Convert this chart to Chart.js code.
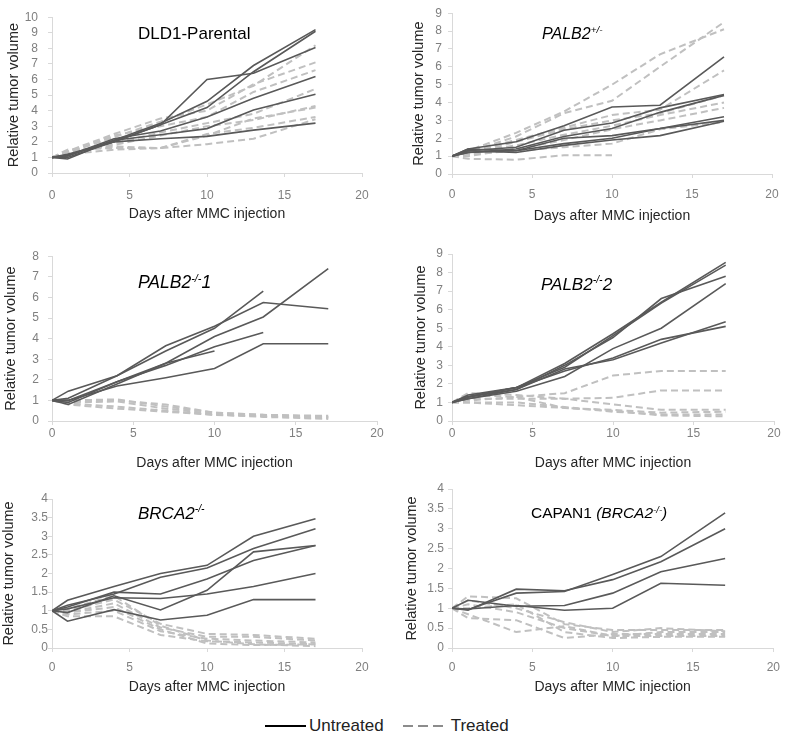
<!DOCTYPE html>
<html>
<head>
<meta charset="utf-8">
<script src="https://cdn.jsdelivr.net/npm/chart.js@4.4.0/dist/chart.umd.min.js"></script>
<style>
  body { margin: 0; background: #fff; width: 788px; height: 735px; position: relative; overflow: hidden;
         font-family: "Liberation Sans", Arial, sans-serif; }
  canvas { position: absolute; }
  .ptitle { position: absolute; color: #000; white-space: nowrap; line-height: 1; }
  .ptitle sup { font-size: 0.62em; vertical-align: 0; position: relative; top: -0.6em; }
  .legend { position: absolute; top: 714px; left: 265px; height: 22px; font-size: 17px; color: #222; line-height: 22px; white-space: nowrap; }
  .legend span { display: inline-block; vertical-align: middle; }
  .solid { width: 41px; height: 2px; background: #000; margin-right: 3px; }
  .dash { width: 42px; height: 2px; margin: 0 6px 0 19px;
          background: repeating-linear-gradient(to right, #8c8c8c 0 10px, transparent 10px 15px); }
</style>
</head>
<body>
<div class="legend"><span class="solid"></span><span>Untreated</span><span class="dash"></span><span>Treated</span></div>
<script>
// measurement days
const days = [0, 1, 4, 7, 10, 13, 17];
const xTicks = [0, 5, 10, 15, 20];

// DLD1-Parental
const dldUntreated = [
  [1, 1.2, 2.0, 3.1, 6.0, 6.4, 8.05],
  [1, 1.1, 2.1, 3.2, 4.6, 6.9, 9.2],
  [1, 1.0, 2.0, 3.1, 4.2, 6.5, 9.1],
  [1, 1.1, 2.2, 2.7, 3.6, 4.8, 6.2],
  [1, 0.9, 2.1, 2.45, 2.85, 4.05, 5.05],
  [1, 1.15, 2.0, 2.2, 2.35, 2.75, 3.2]
];
const dldTreated = [
  [1, 1.3, 2.3, 3.3, 4.4, 5.6, 8.2],
  [1, 1.4, 2.5, 3.5, 4.0, 5.7, 7.1],
  [1, 1.3, 2.4, 3.0, 3.6, 5.2, 6.6],
  [1, 1.2, 1.9, 2.6, 3.2, 3.8, 5.4],
  [1, 1.3, 1.8, 2.4, 3.0, 3.4, 4.3],
  [1, 1.4, 1.7, 1.6, 2.4, 3.5, 4.2],
  [1, 1.5, 1.6, 1.6, 2.5, 2.9, 3.6],
  [1, 1.2, 1.5, 1.6, 1.85, 2.2, 3.45]
];

// PALB2 +/-
const palbHetUntreated = [
  [1, 1.4, 1.8, 2.7, 3.75, 3.85, 6.55],
  [1, 1.3, 1.5, 2.45, 2.85, 3.7, 4.45],
  [1, 1.2, 1.4, 2.1, 2.55, 3.45, 4.4],
  [1, 1.4, 1.3, 2.0, 2.15, 2.55, 3.2],
  [1, 1.2, 1.3, 1.7, 2.0, 2.55, 3.0],
  [1, 1.3, 1.2, 1.6, 1.9, 2.15, 2.95]
];
const palbHetTreated = [
  [1, 1.3, 2.3, 3.5, 5.0, 6.7, 8.1],
  [1, 1.2, 2.1, 3.4, 4.1, 6.0, 8.5],
  [1, 1.2, 1.9, 2.6, 3.3, 3.6, 5.8],
  [1, 1.1, 1.8, 2.5, 3.0, 3.4, 4.4],
  [1, 1.2, 1.6, 2.2, 2.7, 3.3, 4.0],
  [1, 1.0, 1.4, 1.9, 2.5, 3.0, 3.7],
  [1, 1.1, 1.3, 1.5, 1.7, 2.5, 2.9],
  [1, 0.85, 0.8, 1.05, 1.05, null, null]
];

// PALB2 -/- clone 1
const palbKo1Untreated = [
  [1, 1.1, 2.2, 3.4, 4.5, 6.3, null],
  [1, 1.45, 2.2, 3.65, 4.6, 5.75, 5.45],
  [1, 0.8, 1.8, 2.8, 4.1, 5.05, 7.4],
  [1, 0.9, 1.9, 2.7, 3.6, 4.3, null],
  [1, 1.0, 1.9, 2.8, 3.4, null, null],
  [1, 1.0, 1.7, 2.1, 2.55, 3.75, 3.75]
];
const palbKo1Treated = [
  [1, 1.0, 1.05, 0.7, 0.4, 0.3, 0.2],
  [1, 0.9, 0.95, 0.6, 0.35, 0.25, 0.15],
  [1, 0.85, 0.7, 0.5, 0.3, 0.2, 0.1],
  [1, 0.95, 1.0, 0.8, 0.4, 0.3, 0.25],
  [1, 0.8, 0.6, 0.45, 0.3, 0.25, 0.2]
];

// PALB2 -/- clone 2
const palbKo2Untreated = [
  [1, 1.3, 1.8, 3.1, 4.7, 6.4, 8.55],
  [1, 1.2, 1.7, 3.0, 4.5, 6.6, 7.8],
  [1, 1.3, 1.8, 2.9, 4.6, 6.35, 8.4],
  [1, 1.2, 1.6, 2.4, 3.9, 5.0, 7.4],
  [1, 1.4, 1.8, 2.7, 3.4, 4.4, 5.1],
  [1, 1.3, 1.7, 2.8, 3.3, 4.2, 5.35]
];
const palbKo2Treated = [
  [1, 1.4, 1.3, 1.5, 2.45, 2.7, 2.7],
  [1, 1.2, 1.2, 1.2, 1.25, 1.65, 1.65],
  [1, 1.5, 1.4, 1.2, 0.9, 0.6, 0.6],
  [1, 1.1, 1.3, 0.7, 0.6, 0.45, 0.5],
  [1, 1.0, 1.0, 0.75, 0.5, 0.35, 0.35],
  [1, 1.0, 0.85, 0.7, 0.55, 0.3, 0.25]
];

// BRCA2 -/-
const brcaUntreated = [
  [1, 1.28, 1.65, 2.0, 2.22, 3.0, 3.47],
  [1, 1.15, 1.45, 1.9, 2.15, 2.67, 3.2],
  [1, 1.1, 1.5, 1.45, 1.85, 2.35, 2.75],
  [1, 0.95, 1.4, 1.02, 1.55, 2.58, 2.75],
  [1, 1.05, 1.35, 1.33, 1.45, 1.65, 2.0],
  [1, 0.72, 1.03, 0.75, 0.88, 1.3, 1.3]
];
const brcaTreated = [
  [1, 1.0, 1.3, 0.65, 0.38, 0.35, 0.25],
  [1, 0.95, 1.2, 0.55, 0.3, 0.3, 0.2],
  [1, 0.9, 1.0, 0.45, 0.25, 0.2, 0.15],
  [1, 0.85, 0.85, 0.35, 0.18, 0.15, 0.1],
  [1, 1.05, 1.4, 0.6, 0.2, 0.1, 0.05],
  [1, 0.95, 1.1, 0.5, 0.12, 0.08, 0.1]
];

// CAPAN1 (BRCA2 -/-)
const capanUntreated = [
  [1, 0.97, 1.38, 1.42, 1.85, 2.3, 3.4],
  [1, 0.95, 1.48, 1.44, 1.72, 2.17, 3.0],
  [1, 1.2, 1.05, 1.07, 1.38, 1.92, 2.25],
  [1, 0.98, 1.07, 0.95, 1.0, 1.63, 1.58]
];
const capanTreated = [
  [1, 1.3, 1.25, 0.6, 0.45, 0.45, 0.45],
  [1, 1.2, 1.0, 0.65, 0.4, 0.5, 0.42],
  [1, 1.1, 0.9, 0.5, 0.3, 0.4, 0.4],
  [1, 0.75, 0.7, 0.25, 0.35, 0.35, 0.35],
  [1, 1.0, 1.1, 0.4, 0.25, 0.28, 0.28],
  [1, 0.85, 0.4, 0.55, 0.3, 0.3, 0.3]
];

const panels = [
  { untreated: dldUntreated, treated: dldTreated, yMax: 10, yStep: 1, title: 'DLD1-Parental' },
  { untreated: palbHetUntreated, treated: palbHetTreated, yMax: 9, yStep: 1, title: '<i>PALB2<sup>+/-</sup></i>' },
  { untreated: palbKo1Untreated, treated: palbKo1Treated, yMax: 8, yStep: 1, title: '<i>PALB2<sup>-/-</sup>1</i>' },
  { untreated: palbKo2Untreated, treated: palbKo2Treated, yMax: 9, yStep: 1, title: '<i>PALB2<sup>-/-</sup>2</i>' },
  { untreated: brcaUntreated, treated: brcaTreated, yMax: 4, yStep: 0.5, title: '<i>BRCA2<sup>-/-</sup></i>' },
  { untreated: capanUntreated, treated: capanTreated, yMax: 4, yStep: 0.5, title: 'CAPAN1 <i>(BRCA2<sup>-/-</sup>)</i>' }
];

// canvas box, plot area [left, right, top, bottom], label paddings, title placement
const layout = [
  { left: 0,   top: 0,   w: 394, h: 240, plot: [52, 362, 7, 173],   yPad: 10, xPad: 11, yTitlePad: 5,  xTitlePad: 17, tx: 138, ty: 33, fs: 17 },
  { left: 394, top: 0,   w: 394, h: 240, plot: [452, 772, 7, 174],  yPad: 6,  xPad: 9,  yTitlePad: 16, xTitlePad: 15, tx: 542, ty: 34, fs: 16 },
  { left: 0,   top: 240, w: 394, h: 235, plot: [52, 377, 254, 421], yPad: 9,  xPad: 1,  yTitlePad: 2,  xTitlePad: 3,  tx: 138, ty: 283, fs: 17.5 },
  { left: 394, top: 240, w: 394, h: 235, plot: [452, 774, 254, 421], yPad: 5, xPad: 1,  yTitlePad: 18, xTitlePad: 3,  tx: 541, ty: 284, fs: 17 },
  { left: 0,   top: 475, w: 394, h: 225, plot: [52, 362, 499, 648], yPad: 0,  xPad: 8,  yTitlePad: 0,  xTitlePad: 4,  tx: 138, ty: 513, fs: 17 },
  { left: 394, top: 475, w: 394, h: 225, plot: [452, 780, 489, 648], yPad: 4, xPad: 8,  yTitlePad: 9,  xTitlePad: 4,  tx: 531, ty: 513, fs: 15.5 }
];

const toPoints = vals => days.map((d, i) => ({ x: d, y: vals[i] }));

panels.forEach((p, i) => {
  const g = layout[i];
  const canvas = document.createElement('canvas');
  canvas.width = g.w;
  canvas.height = g.h;
  canvas.style.left = g.left + 'px';
  canvas.style.top = g.top + 'px';
  document.body.appendChild(canvas);

  const t = document.createElement('div');
  t.className = 'ptitle';
  t.innerHTML = p.title;
  t.style.fontSize = g.fs + 'px';
  t.style.left = g.tx + 'px';
  t.style.top = (g.ty - 0.49 * g.fs) + 'px';
  document.body.appendChild(t);

  const datasets = [];
  p.untreated.forEach(v => datasets.push({ data: toPoints(v), borderColor: '#595959', borderWidth: 1.6 }));
  p.treated.forEach(v => datasets.push({ data: toPoints(v), borderColor: '#c0c0c0', borderWidth: 2, borderDash: [7, 4] }));

  new Chart(canvas, {
    type: 'line',
    data: { datasets },
    options: {
      responsive: false,
      animation: false,
      layout: { padding: { left: 0, top: g.plot[2] - g.top, right: g.left + g.w - g.plot[1], bottom: 0 } },
      elements: { point: { radius: 0 }, line: { tension: 0, fill: false } },
      plugins: { legend: { display: false }, tooltip: { enabled: false } },
      scales: {
        x: {
          type: 'linear', min: 0, max: 20,
          afterBuildTicks: s => { s.ticks = xTicks.map(v => ({ value: v })); },
          afterFit: s => { s.height = g.top + g.h - g.plot[3]; },
          grid: { drawOnChartArea: false, color: '#d9d9d9', tickLength: 4 },
          border: { color: '#d9d9d9' },
          ticks: { color: '#7f7f7f', font: { size: 12 }, padding: g.xPad, maxRotation: 0, autoSkip: false },
          title: { display: true, text: 'Days after MMC injection', color: '#262626',
                   font: { size: 14 }, padding: { top: 0, bottom: g.xTitlePad } }
        },
        y: {
          min: 0, max: p.yMax,
          afterFit: s => { s.width = g.plot[0] - g.left; },
          grid: { drawOnChartArea: false, color: '#d9d9d9', tickLength: 4 },
          border: { color: '#d9d9d9' },
          ticks: { color: '#7f7f7f', font: { size: 12 }, padding: g.yPad, stepSize: p.yStep,
                   autoSkip: false, callback: v => String(v) },
          title: { display: true, text: 'Relative tumor volume', color: '#262626',
                   font: { size: 14.5 }, padding: { top: g.yTitlePad, bottom: 0 } }
        }
      }
    }
  });
});
</script>
</body>
</html>
